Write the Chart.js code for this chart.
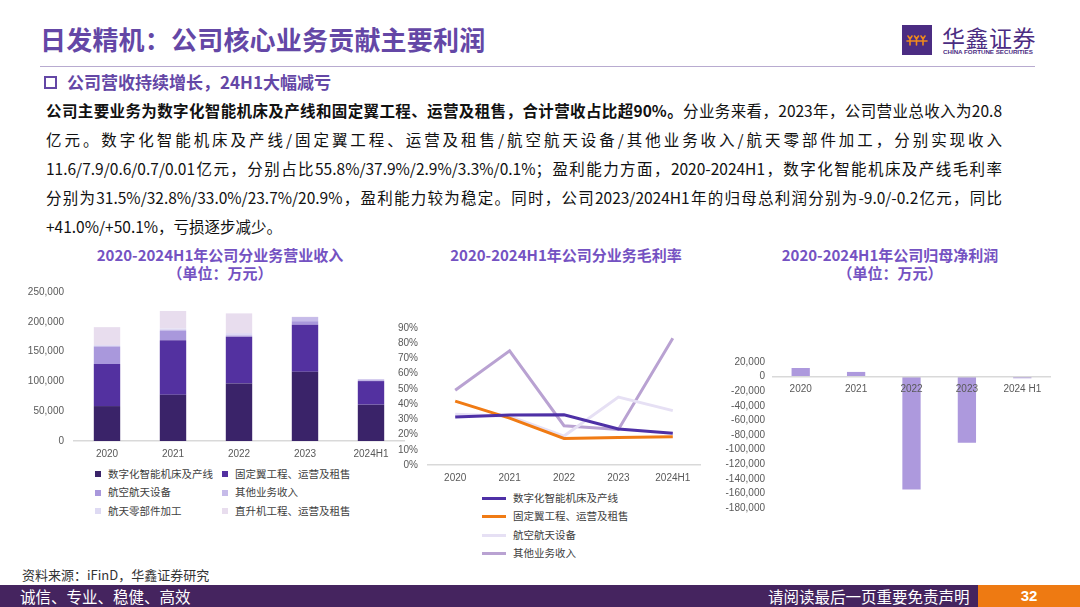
<!DOCTYPE html>
<html lang="zh-CN">
<head>
<meta charset="utf-8">
<title>日发精机：公司核心业务贡献主要利润</title>
<script src="https://cdn.jsdelivr.net/npm/chart.js@4.4.1/dist/chart.umd.min.js"></script>
<style>
    html, body { margin: 0; padding: 0; }
    body {
        width: 1080px; height: 607px; overflow: hidden; position: relative; background: #fff;
        font-family: "Noto Sans CJK SC", "Noto Sans", sans-serif; color: #1a1a1a;
    }
    .abs { position: absolute; }
    .page-title { left: 40px; top: 21px; font-size: 26px; font-weight: 700; color: #6447A6; line-height: 36px; letter-spacing: 0.2px; }
    .title-rule { left: 40px; top: 66px; width: 995px; height: 1px; background: #B8ABD0; }
    .sub-box { left: 44px; top: 76px; width: 9px; height: 9px; border: 2px solid #6447A6; }
    .sub-title { left: 67px; top: 70px; font-size: 17px; font-weight: 700; color: #6447A6; line-height: 24px; }
    .para { left: 46px; top: 96px; width: 956px; font-size: 15.5px; line-height: 29px; color: #111; }
    .para div { white-space: nowrap; text-align: justify; text-align-last: justify; }
    .para div.last { text-align-last: left; }
    .para b { font-weight: 700; }
    .logo-box { left: 902px; top: 25px; width: 30px; height: 30px; background: #4B2C82; }
    .logo-cn { left: 942px; top: 21px; font-size: 23px; line-height: 32px; color: #4B2C82; letter-spacing: 0.5px; }
    .logo-en { left: 943px; top: 48px; font-size: 6.2px; line-height: 8px; color: #4B2C82; font-family: "Liberation Sans", sans-serif; font-weight: 700; letter-spacing: 0; }
    .chart-title { font-size: 15px; font-weight: 700; color: #7452C2; text-align: center; line-height: 18px; }
    canvas { position: absolute; }
    .legend { font-size: 10.5px; color: #404040; line-height: 18.4px; }
    .legend .item { display: flex; align-items: center; white-space: nowrap; }
    .legend .sq { width: 6px; height: 6px; margin-right: 7px; flex: none; }
    .legend .ln { width: 24px; height: 3px; margin-right: 7px; flex: none; }
    .source { left: 22px; top: 566px; font-size: 13px; line-height: 18px; color: #333; }
    .footer { left: 0; top: 585px; width: 1080px; height: 22px; background: #45245F; }
    .foot-left { left: 20px; top: 585px; font-size: 15.5px; line-height: 22px; color: #fff; }
    .foot-right { left: 768px; top: 585px; font-size: 15.5px; line-height: 22px; color: #fff; }
    .foot-page { left: 978px; top: 585px; width: 102px; height: 22px; background: #EE7A12; color: #fff; font-weight: 700; font-size: 15px; line-height: 22px; text-align: center; font-family: "Liberation Sans", sans-serif; }
</style>
</head>
<body>

<div class="abs page-title">日发精机：公司核心业务贡献主要利润</div>
<div class="abs title-rule"></div>

<div class="abs logo-box">
    <svg width="30" height="30" viewBox="0 0 30 30">
        <g stroke="#F08A1C" stroke-width="1.6" fill="none" stroke-linecap="round">
            <path d="M6 11 L8 14 L10 11 M8 14 L8 20"/>
            <path d="M12.5 11 L14.5 14 L16.5 11 M14.5 14 L14.5 20"/>
            <path d="M19 11 L21 14 L23 11 M21 14 L21 20"/>
            <path d="M5 16 L25 16"/>
        </g>
    </svg>
</div>
<div class="abs logo-cn">华鑫证券</div>
<div class="abs logo-en">CHINA FORTUNE SECURITIES</div>

<div class="abs sub-box"></div>
<div class="abs sub-title">公司营收持续增长，24H1大幅减亏</div>

<div class="abs para">
    <div><b>公司主要业务为数字化智能机床及产线和固定翼工程、运营及租售，合计营收占比超90%。</b>分业务来看，2023年，公司营业总收入为20.8</div>
    <div>亿元。数字化智能机床及产线/固定翼工程、运营及租售/航空航天设备/其他业务收入/航天零部件加工，分别实现收入</div>
    <div>11.6/7.9/0.6/0.7/0.01亿元，分别占比55.8%/37.9%/2.9%/3.3%/0.1%；盈利能力方面，2020-2024H1，数字化智能机床及产线毛利率</div>
    <div>分别为31.5%/32.8%/33.0%/23.7%/20.9%，盈利能力较为稳定。同时，公司2023/2024H1年的归母总利润分别为-9.0/-0.2亿元，同比</div>
    <div class="last">+41.0%/+50.1%，亏损逐步减少。</div>
</div>

<div class="abs chart-title" style="left:60px; top:246px; width:320px;">2020-2024H1年公司分业务营业收入<br>（单位：万元）</div>
<div class="abs chart-title" style="left:406px; top:246px; width:320px;">2020-2024H1年公司分业务毛利率</div>
<div class="abs chart-title" style="left:730px; top:246px; width:320px;">2020-2024H1年公司归母净利润<br>（单位：万元）</div>

<canvas id="revChart" width="410" height="188" style="left:0; top:276px;"></canvas>
<canvas id="marginChart" width="325" height="176" style="left:380px; top:312px;"></canvas>
<canvas id="profitChart" width="360" height="174" style="left:700px; top:348px;"></canvas>

<div id="revLegend" class="abs legend" style="left:95px; top:465px;"></div>
<div id="marginLegend" class="abs legend" style="left:482px; top:489px;"></div>

<div class="abs source">资料来源：iFinD，华鑫证券研究</div>
<div class="abs footer"></div>
<div class="abs foot-left">诚信、专业、稳健、高效</div>
<div class="abs foot-right">请阅读最后一页重要免责声明</div>
<div class="abs foot-page">32</div>

<script>
// --- DATA ---
const years = ['2020', '2021', '2022', '2023', '2024H1'];
const profitYears = ['2020', '2021', '2022', '2023', '2024 H1'];

const segmentNames = ['数字化智能机床及产线', '固定翼工程、运营及租售', '航空航天设备', '其他业务收入', '航天零部件加工', '直升机工程、运营及租售'];
const marginNames = ['数字化智能机床及产线', '固定翼工程、运营及租售', '航空航天设备', '其他业务收入'];

// revenue, 万元
const revMachine   = [58600, 77600, 96600, 116000, 61000];
const revFixedWing = [70400, 91600, 78500, 79000, 39500];
const revAero      = [29000, 15500, 1000, 6000, 1200];
const revOther     = [1500, 2000, 1500, 7000, 1800];
const revParts     = [1500, 2000, 3500, 100, 300];
const revHeli      = [30000, 29500, 33000, 400, 0];

// gross margin, %
const gmMachine   = [31.5, 32.8, 33.0, 23.7, 20.9];
const gmFixedWing = [42.0, 30.8, 17.4, 18.1, 18.5];
const gmAero      = [33.4, 32.1, 19.0, 44.6, 35.7];
const gmOther     = [49.1, 75.0, 25.8, 23.3, 83.2];

// net profit attributable to parent, 万元
const netProfit = [11800, 6400, -154500, -90500, -2300];

const revTicks = { min: 0, max: 250000, step: 50000 };
const marginTicks = { min: 0, max: 90, step: 10 };
const profitTicks = { min: -180000, max: 20000, step: 20000 };

// --- STYLE ---
const revColors = ['#3A2369', '#5331A0', '#A998DC', '#C6BBE9', '#DEDAF3', '#E8DDEE'];
const marginColors = ['#4E30A6', '#F07B14', '#E6E0F4', '#B9A2D2'];
const profitColor = '#AD99DD';
const tickColor = '#595959';
const axisColor = '#D9D9D9';

Chart.defaults.font.family = "'Liberation Sans', 'Noto Sans CJK SC', sans-serif";
Chart.defaults.font.size = 10;
Chart.defaults.color = tickColor;

const fmt = v => v.toLocaleString('en-US');
const noPlugins = { legend: { display: false }, tooltip: { enabled: false } };

function buildLegend(el, names, colors, kind, columns) {
    el.style.display = 'grid';
    el.style.gridTemplateColumns = columns;
    names.forEach((name, i) => {
        const item = document.createElement('div');
        item.className = 'item';
        const mark = document.createElement('span');
        mark.className = kind;
        mark.style.background = colors[i];
        const txt = document.createElement('span');
        txt.textContent = name;
        item.appendChild(mark);
        item.appendChild(txt);
        el.appendChild(item);
    });
}

// --- REVENUE CHART ---
const revSeries = [revMachine, revFixedWing, revAero, revOther, revParts, revHeli];
new Chart(document.getElementById('revChart'), {
    type: 'bar',
    data: {
        labels: years,
        datasets: revSeries.map((d, i) => ({
            label: segmentNames[i], data: d, backgroundColor: revColors[i],
            barPercentage: 0.5, categoryPercentage: 0.8
        }))
    },
    options: {
        responsive: false, animation: false,
        layout: { padding: { top: 7, right: 6, left: 0, bottom: 0 } },
        plugins: noPlugins,
        scales: {
            x: {
                stacked: true,
                grid: { display: false, drawTicks: false },
                border: { display: true, color: axisColor, width: 1.5 },
                ticks: { padding: 7, autoSkip: false, maxRotation: 0 },
                afterFit: s => { s.height = 23; }
            },
            y: {
                stacked: true, min: revTicks.min, max: revTicks.max,
                grid: { display: false, drawTicks: false },
                border: { display: false },
                ticks: { stepSize: revTicks.step, padding: 10, autoSkip: false, callback: v => fmt(v) },
                afterFit: s => { s.width = 74; }
            }
        }
    }
});
buildLegend(document.getElementById('revLegend'), segmentNames, revColors, 'sq', '127px auto');

// --- MARGIN CHART ---
const gmSeries = [gmMachine, gmFixedWing, gmAero, gmOther];
new Chart(document.getElementById('marginChart'), {
    type: 'line',
    data: {
        labels: years,
        datasets: gmSeries.map((d, i) => ({
            label: marginNames[i], data: d, borderColor: marginColors[i], backgroundColor: marginColors[i],
            borderWidth: 3, pointRadius: 0, tension: 0, fill: false
        }))
    },
    options: {
        responsive: false, animation: false,
        layout: { padding: { top: 8, right: 5, left: 0, bottom: 0 } },
        plugins: noPlugins,
        scales: {
            x: {
                offset: true,
                grid: { display: false, drawTicks: false },
                border: { display: true, color: axisColor, width: 1.5 },
                ticks: { padding: 7, autoSkip: false, maxRotation: 0 },
                afterFit: s => { s.height = 23; }
            },
            y: {
                min: marginTicks.min, max: marginTicks.max,
                grid: { display: false, drawTicks: false },
                border: { display: false },
                ticks: { stepSize: marginTicks.step, padding: 10, autoSkip: false, callback: v => v + '%' },
                afterFit: s => { s.width = 48; }
            }
        }
    }
});
buildLegend(document.getElementById('marginLegend'), marginNames, marginColors, 'ln', 'auto');

// --- NET PROFIT CHART ---
new Chart(document.getElementById('profitChart'), {
    type: 'bar',
    data: {
        labels: profitYears,
        datasets: [{ label: '归母净利润', data: netProfit, backgroundColor: profitColor, barPercentage: 0.33, categoryPercentage: 1 }]
    },
    options: {
        responsive: false, animation: false,
        layout: { padding: { top: 8, right: 10, left: 0, bottom: 10 } },
        plugins: noPlugins,
        scales: {
            x: {
                position: { y: 0 },
                grid: { display: false, drawTicks: false },
                border: { display: true, color: axisColor, width: 1.5, z: 1 },
                ticks: { padding: 7, autoSkip: false, maxRotation: 0, z: 1 }
            },
            y: {
                min: profitTicks.min, max: profitTicks.max,
                grid: { display: false, drawTicks: false },
                border: { display: false },
                ticks: { stepSize: profitTicks.step, padding: 8, autoSkip: false, callback: v => fmt(v) },
                afterFit: s => { s.width = 73; }
            }
        }
    }
});
</script>
</body>
</html>
